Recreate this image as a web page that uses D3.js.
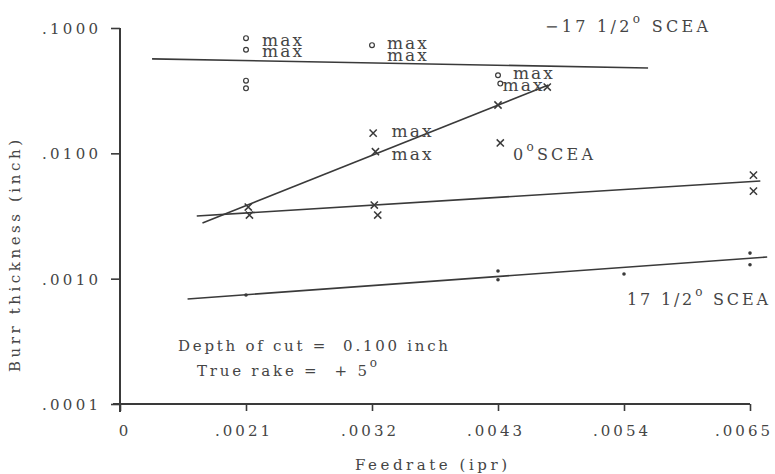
<!DOCTYPE html>
<html>
<head>
<meta charset="utf-8">
<script src="https://cdn.jsdelivr.net/npm/d3@7"></script>
<style>
  html, body { margin: 0; padding: 0; background: #ffffff; }
  svg text { font-family: "DejaVu Serif", serif; fill: #454545; white-space: pre; }
</style>
</head>
<body>
<svg id="chart" width="775" height="474"></svg>
<script>
// Axis ticks (the origin of the feedrate axis is a broken axis labelled "0")
const feedTicks = [0.0010, 0.0021, 0.0032, 0.0043, 0.0054, 0.0065];
const feedTickLabels = ["0", ".0021", ".0032", ".0043", ".0054", ".0065"];
const burrTicks = [0.1, 0.01, 0.001, 0.0001];
const burrTickLabels = [".1000", ".0100", ".0010", ".0001"];

// -17 1/2° SCEA: measured burr thickness (open circles)
const neg17Feed = [0.0021, 0.0021, 0.0021, 0.0021, 0.0032, 0.0043, 0.00432];
const neg17Burr = [0.083, 0.067, 0.038, 0.033, 0.073, 0.042, 0.036];
// fitted line
const neg17FitFeed = [0.00128, 0.00561];
const neg17FitBurr = [0.0567, 0.0480];

// 0° SCEA: measured burr thickness (crosses)
const zeroFeed = [0.00212, 0.00213, 0.00321, 0.00323, 0.00322, 0.00325, 0.0043, 0.00432, 0.00473, 0.00653, 0.00653];
const zeroBurr = [0.00373, 0.00322, 0.0145, 0.0103, 0.00387, 0.00322, 0.0243, 0.0121, 0.0338, 0.0067, 0.0050];
// fitted lines: maximum burr and typical burr
const zeroMaxFitFeed = [0.00172, 0.00474];
const zeroMaxFitBurr = [0.00278, 0.0351];
const zeroFitFeed = [0.00167, 0.00659];
const zeroFitBurr = [0.00316, 0.00601];

// 17 1/2° SCEA: measured burr thickness (dots)
const pos17Feed = [0.0021, 0.0043, 0.0043, 0.0054, 0.0065, 0.0065];
const pos17Burr = [0.00074, 0.00115, 0.00098, 0.00109, 0.00160, 0.00129];
const pos17FitFeed = [0.00159, 0.00665];
const pos17FitBurr = [0.000689, 0.001489];

// "max" notes, placed in data coordinates
const maxNoteFeed = [0.00224, 0.00224, 0.00333, 0.00333, 0.00443, 0.00434, 0.00337, 0.00337];
const maxNoteBurr = [0.0718, 0.0587, 0.0680, 0.0545, 0.0392, 0.0314, 0.0135, 0.00885];

const svg = d3.select("#chart");
const ink = "#3a3a3a";

const x = d3.scaleLinear().domain([0.0010, 0.0065]).range([120, 750]);
const y = d3.scaleLog().domain([0.0001, 0.1]).range([404, 28]);

const FONT = 15;

// Spread a text's glyphs with letter-spacing so that it spans `width` pixels,
// compensating the trailing spacing so the anchor stays where it was.
function spread(sel, width) {
  sel.each(function () {
    this.style.letterSpacing = "0px";
    const n = this.getNumberOfChars();
    const len = this.getComputedTextLength();
    const ls = n > 1 ? (width - len) / (n - 1) : 0;
    this.style.letterSpacing = ls + "px";
    const anchor = getComputedStyle(this).textAnchor;
    const shift = anchor === "middle" ? ls / 2 : anchor === "end" ? ls : 0;
    const dx0 = +(this.getAttribute("data-dx") || 0);
    if (shift || dx0) this.setAttribute("dx", dx0 + shift);
  });
  return sel;
}

// axes
const xAxis = d3.axisBottom(x)
  .tickValues(feedTicks)
  .tickFormat((d, i) => feedTickLabels[i])
  .tickSize(7).tickSizeOuter(0).tickPadding(14);
const gx = svg.append("g").attr("transform", `translate(0,${y.range()[0]})`).call(xAxis);

const yAxis = d3.axisLeft(y)
  .tickValues(burrTicks)
  .tickFormat((d, i) => burrTickLabels[i])
  .tickSize(9).tickSizeOuter(0).tickPadding(14);
const gy = svg.append("g").attr("transform", `translate(${x.range()[0]},0)`).call(yAxis);

[gx, gy].forEach(g => {
  g.select(".domain").remove();
  g.selectAll(".tick line").attr("stroke", ink).attr("stroke-width", 1.6);
  g.selectAll(".tick text")
    .attr("fill", "#454545")
    .style("font-family", "DejaVu Serif")
    .style("font-size", FONT + "px");
});
const lastTick = feedTicks.length - 1;
gx.selectAll(".tick text").attr("data-dx", (d, i) => i === 0 ? 3 : i === lastTick ? -8 : -4);
gx.selectAll(".tick text").each(function (d, i) {
  spread(d3.select(this), i === 0 ? 9 : 55);
});
gy.selectAll(".tick text").attr("dy", "0.36em").attr("data-dx", 1);
spread(gy.selectAll(".tick text"), 56);

// axis lines, slightly overrunning the origin
svg.append("line")
  .attr("x1", x.range()[0] - 7).attr("x2", x.range()[1])
  .attr("y1", y.range()[0]).attr("y2", y.range()[0])
  .attr("stroke", ink).attr("stroke-width", 2);
svg.append("line")
  .attr("x1", x.range()[0]).attr("x2", x.range()[0])
  .attr("y1", y.range()[1]).attr("y2", y.range()[0] + 8)
  .attr("stroke", ink).attr("stroke-width", 2);

// axis titles
spread(svg.append("text")
  .attr("x", 431)
  .attr("y", 470)
  .attr("text-anchor", "middle")
  .style("font-size", FONT + "px")
  .text("Feedrate (ipr)"), 152);
spread(svg.append("text")
  .attr("transform", "translate(20,256) rotate(-90)")
  .attr("text-anchor", "middle")
  .style("font-size", FONT + "px")
  .text("Burr thickness (inch)"), 232);

// fitted lines
const line = d3.line().x(d => x(d[0])).y(d => y(d[1]));
const fits = [
  [neg17FitFeed, neg17FitBurr],
  [zeroMaxFitFeed, zeroMaxFitBurr],
  [zeroFitFeed, zeroFitBurr],
  [pos17FitFeed, pos17FitBurr]
];
svg.append("g").selectAll("path")
  .data(fits)
  .join("path")
  .attr("d", f => line(d3.zip(f[0], f[1])))
  .attr("fill", "none")
  .attr("stroke", ink)
  .attr("stroke-width", 1.6);

// open circles
svg.append("g").selectAll("circle")
  .data(d3.zip(neg17Feed, neg17Burr))
  .join("circle")
  .attr("cx", d => x(d[0])).attr("cy", d => y(d[1]))
  .attr("r", 2.4)
  .attr("fill", "none").attr("stroke", ink).attr("stroke-width", 1.2);

// crosses
const cr = 3.6;
const crosses = svg.append("g").selectAll("g")
  .data(d3.zip(zeroFeed, zeroBurr))
  .join("g")
  .attr("transform", d => `translate(${x(d[0])},${y(d[1])})`);
crosses.append("path")
  .attr("d", `M${-cr},${-cr}L${cr},${cr}M${-cr},${cr}L${cr},${-cr}`)
  .attr("stroke", ink).attr("stroke-width", 1.5).attr("fill", "none");

// dots
svg.append("g").selectAll("circle")
  .data(d3.zip(pos17Feed, pos17Burr))
  .join("circle")
  .attr("cx", d => x(d[0])).attr("cy", d => y(d[1]))
  .attr("r", 1.8)
  .attr("fill", ink);

// "max" notes
spread(svg.append("g").selectAll("text")
  .data(d3.zip(maxNoteFeed, maxNoteBurr))
  .join("text")
  .attr("x", d => x(d[0])).attr("y", d => y(d[1]))
  .style("font-size", "17px")
  .text("max"), 40);

// labels with a raised degree sign
function degreeLabel(px, py, before, after, size, width) {
  const t = svg.append("text")
    .attr("x", px).attr("y", py)
    .style("font-size", (size || FONT) + "px");
  t.append("tspan").text(before);
  t.append("tspan").attr("dy", -9).style("font-size", "12px").text("o");
  if (after) t.append("tspan").attr("dy", 9).text(after);
  return spread(t, width);
}
degreeLabel(545, 32, "\u221217 1/2", " SCEA", 16, 163);
degreeLabel(513, 160, "0", "SCEA", 16, 80);
degreeLabel(627, 305, "17 1/2", " SCEA", 16, 141);

spread(svg.append("text")
  .attr("x", 178).attr("y", 351)
  .style("font-size", FONT + "px")
  .text("Depth of cut =  0.100 inch"), 270);
degreeLabel(197, 376, "True rake =  + 5", "", FONT, 180);
</script>
</body>
</html>
